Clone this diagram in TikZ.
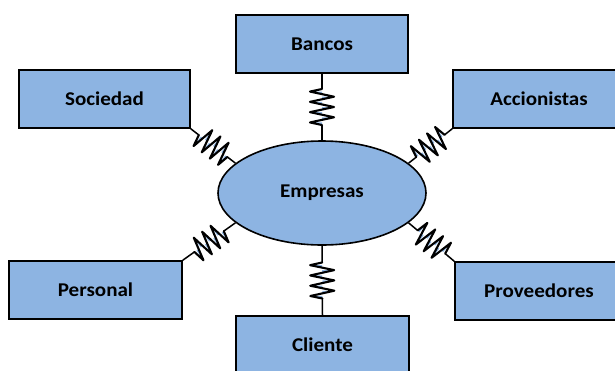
\documentclass[tikz,border=0pt]{standalone}
\usepackage{fontspec}
\setmainfont{Carlito}[FakeStretch=1.08]
\usetikzlibrary{shapes.geometric,calc}

\definecolor{boxblue}{HTML}{8DB4E2}

\tikzset{
  wire/.style={line width=1.5pt, line join=miter, line cap=butt},
  coilwire/.style={line width=2.1pt, line join=round, line cap=round},
  entity/.style={draw=black, line width=1.6pt, fill=boxblue, inner sep=0pt,
    font=\fontsize{19.5}{22}\selectfont\bfseries},
  box/.style={entity, rectangle, minimum height=58pt},
  hub/.style={entity, ellipse, minimum width=208pt, minimum height=104pt},
  % spring drawn along the local x axis; #1 is its full length
  coil/.pic={
    \pgfmathsetmacro\coilL{#1}
    \pgfmathsetmacro\coilA{(\coilL-36)/2}
    \pgfmathsetmacro\coilB{\coilA+36}
    \pgfmathsetmacro\coilS{36/7}
    \foreach \k in {1,...,7}{
      \pgfmathsetmacro\xk{\coilA+(\k-0.5)*\coilS}
      \pgfmathsetmacro\yk{12*(1-2*mod(\k+1,2))}
      \fill[boxblue] (\xk,\yk) -- ({\xk+0.5*\coilS},0) -- (\xk,0) -- cycle;
    }
    \draw[wire] (0,0) -- (\coilA,0);
    \draw[wire] (\coilB,0) -- (\coilL,0);
    \draw[coilwire] (\coilA,0)
      \foreach \k in {1,...,7}{ -- ({\coilA+(\k-0.5)*\coilS},{12*(1-2*mod(\k+1,2))}) }
      -- (\coilB,0);
  }
}

% spring between two points
\newcommand\springlink[2]{%
  \path let \p1=($(#2)-(#1)$), \n1={atan2(\y1,\x1)}, \n2={veclen(\x1,\y1)} in
    (#1) pic[rotate=\n1] {coil=\n2};%
}

\begin{document}
\begin{tikzpicture}[x=1pt,y=-1pt]
\useasboundingbox (0,0) rectangle (615,370);
\begin{scope}
\clip (0,0) rectangle (615,370);

\node[hub] (empresas) at (322,193) {\raisebox{-2pt}{Empresas}};

\node[box, minimum width=172pt] (bancos)      at (322,44)    {Bancos};
\node[box, minimum width=171pt] (sociedad)    at (104.5,99)  {Sociedad};
\node[box, minimum width=172pt] (accionistas) at (539,99)    {Accionistas};
\node[box, minimum width=173pt] (personal)    at (95.5,290)  {Personal};
\node[box, minimum width=168pt] (proveedores) at (539,291)   {Proveedores};
\node[box, minimum width=173pt] (cliente)     at (322.5,345) {Cliente};

\springlink{bancos.south}{empresas.north}
\springlink{sociedad.south east}{empresas.161}
\springlink{accionistas.south west}{empresas.19}
\springlink{personal.north east}{empresas.199}
\springlink{proveedores.north west}{empresas.341}
\springlink{empresas.south}{cliente.north}
\end{scope}
\end{tikzpicture}
\end{document}
